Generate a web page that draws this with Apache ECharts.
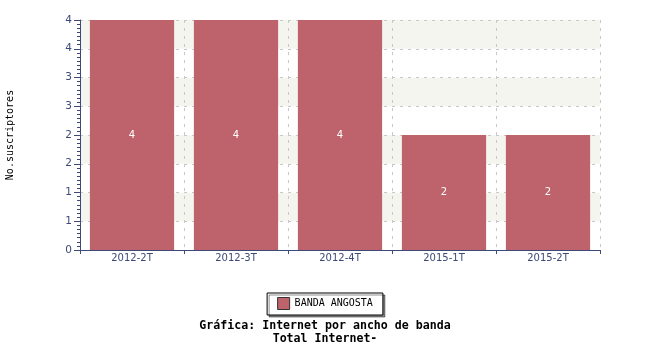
<!DOCTYPE html>
<html><head><meta charset="utf-8">
<script src="https://cdn.jsdelivr.net/npm/echarts@6/dist/echarts.min.js"></script>
<style>html,body{margin:0;padding:0;background:#fff}#c{width:650px;height:350px}</style>
</head><body><div id="c"></div>
<script>
const categories = ['2012-2T', '2012-3T', '2012-4T', '2015-1T', '2015-2T'];
const seriesName = 'BANDA ANGOSTA';
const values = [4, 4, 4, 2, 2];
const yAxisName = 'No.suscriptores';
const titleLine1 = 'Gráfica: Internet por ancho de banda';
const titleLine2 = 'Total Internet-';

const axisColor = '#3d4a78';
const chart = echarts.init(document.getElementById('c'), null, {renderer: 'canvas'});
chart.setOption({
  animation: false,
  backgroundColor: '#fff',
  grid: {left: 80, right: 50, top: 20, bottom: 100, containLabel: false, outerBoundsMode: 'none'},
  title: {
    text: titleLine1, subtext: titleLine2, left: 'center', top: 315, itemGap: 1,
    textStyle: {fontFamily: 'DejaVu Sans Mono', fontWeight: 'bold', fontSize: 11.6, color: '#000'},
    subtextStyle: {fontFamily: 'DejaVu Sans Mono', fontWeight: 'bold', fontSize: 11.6, color: '#000'}
  },
  legend: {
    data: [seriesName], left: 'center', top: 293, orient: 'horizontal',
    backgroundColor: '#fff', borderColor: '#000', borderWidth: 1, padding: [4, 10, 5, 10],
    shadowColor: 'rgba(0,0,0,0.45)', shadowOffsetX: 2, shadowOffsetY: 2, shadowBlur: 0,
    itemWidth: 12, itemHeight: 12, icon: 'rect', itemGap: 5,
    itemStyle: {borderColor: '#333', borderWidth: 1},
    textStyle: {fontFamily: 'DejaVu Sans Mono', fontSize: 10, color: '#000'}
  },
  xAxis: {
    type: 'category', data: categories,
    axisLine: {lineStyle: {color: axisColor, width: 1}},
    axisTick: {show: true, length: 4, lineStyle: {color: axisColor}},
    axisLabel: {color: axisColor, fontFamily: 'DejaVu Sans', fontSize: 10, margin: 3},
    splitLine: {show: true, lineStyle: {color: '#c8c8c8', type: [3, 5]}}
  },
  yAxis: {
    type: 'value', min: 0, max: 4, interval: 0.5,
    name: yAxisName, nameLocation: 'middle', nameRotate: 90, nameGap: 65,
    nameTextStyle: {fontFamily: 'DejaVu Sans Mono', fontSize: 10, color: '#000'},
    axisLine: {show: true, lineStyle: {color: axisColor, width: 1}},
    axisTick: {show: true, length: 6, lineStyle: {color: axisColor}},
    minorTick: {show: true, splitNumber: 7, length: 3, lineStyle: {color: axisColor}},
    axisLabel: {color: axisColor, fontFamily: 'DejaVu Sans', fontSize: 10.5, margin: 8,
      formatter: v => String(Math.round(v))},
    splitLine: {show: true, lineStyle: {color: '#c8c8c8', type: [3, 5]}},
    splitArea: {show: true, areaStyle: {color: ['#ffffff', '#f5f5f0']}}
  },
  series: [{
    name: seriesName, type: 'bar', data: values, barWidth: '81%',
    itemStyle: {color: '#be626b'},
    label: {show: true, position: 'inside', color: '#fff', fontFamily: 'DejaVu Sans', fontSize: 10}
  }]
});
</script></body></html>
